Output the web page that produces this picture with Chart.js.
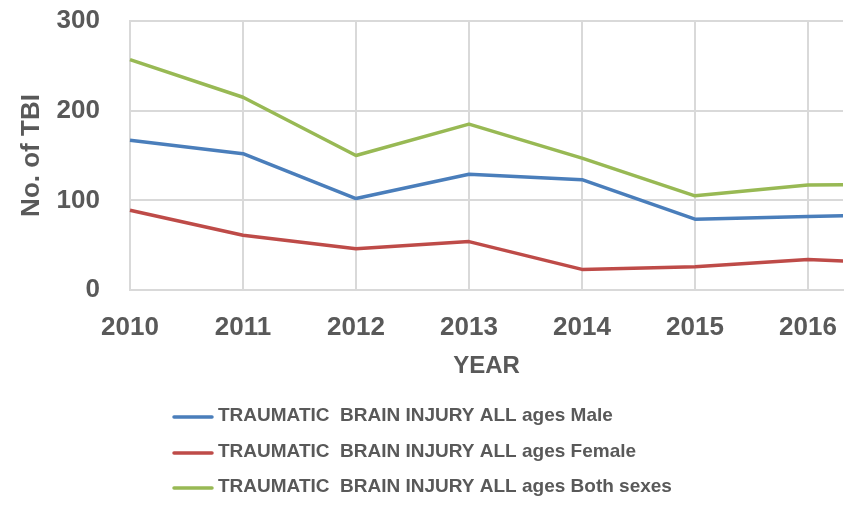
<!DOCTYPE html>
<html><head><meta charset="utf-8">
<script src="https://cdn.jsdelivr.net/npm/chart.js@4"></script>
<style>html,body{margin:0;padding:0;background:#fff}#wrap{width:855px;height:505px}</style>
</head><body><div id="wrap"><canvas id="c" width="855" height="505"></canvas></div>
<script>
// Data (the chart is cropped just past 2016; 2017 is only partly visible)
const years = [2010, 2011, 2012, 2013, 2014, 2015, 2016, 2017];
const maleValues = [167, 152, 102, 129, 123, 79, 82, 85];
const femaleValues = [89, 61, 46, 54, 23, 26, 34, 29];
const bothValues = [257, 215, 150, 185, 147, 105, 117, 118];
const seriesLabels = [
  'TRAUMATIC  BRAIN INJURY ALL ages Male',
  'TRAUMATIC  BRAIN INJURY ALL ages Female',
  'TRAUMATIC  BRAIN INJURY ALL ages Both sexes'
];
const xTickValues = [2010, 2011, 2012, 2013, 2014, 2015, 2016];
const yTickValues = [0, 100, 200, 300];
const xAxisTitle = 'YEAR';
const yAxisTitle = 'No. of TBI';

const TEXT = '#595959';
const GRID = '#d9d9d9';
const FONT = "'Liberation Sans', Arial, sans-serif";
const colors = ['#4a7ebb', '#be4b48', '#98b954'];

const toPoints = vals => vals.map((v, i) => ({x: years[i], y: v}));

const legendPlugin = {
  id: 'sideLegend',
  afterDraw(chart) {
    const ctx = chart.ctx;
    const rows = [417, 453, 488];
    ctx.save();
    chart.data.datasets.forEach((ds, i) => {
      const y = rows[i];
      ctx.strokeStyle = ds.borderColor;
      ctx.lineWidth = 3.5;
      ctx.lineCap = 'round';
      ctx.beginPath();
      ctx.moveTo(174, y);
      ctx.lineTo(212, y);
      ctx.stroke();
      ctx.fillStyle = TEXT;
      ctx.font = "bold 19px " + FONT;
      ctx.textBaseline = 'middle';
      ctx.textAlign = 'left';
      ctx.fillText(ds.label, 218, y - 1);
    });
    ctx.restore();
  }
};

new Chart(document.getElementById('c'), {
  type: 'line',
  data: {
    datasets: [
      {label: seriesLabels[0], data: toPoints(maleValues), borderColor: colors[0]},
      {label: seriesLabels[1], data: toPoints(femaleValues), borderColor: colors[1]},
      {label: seriesLabels[2], data: toPoints(bothValues), borderColor: colors[2]}
    ].map(d => Object.assign(d, {
      borderWidth: 3.5, pointRadius: 0, tension: 0, fill: false,
      borderJoinStyle: 'round', clip: {left: 5, top: 5, right: 0, bottom: 5}
    }))
  },
  options: {
    responsive: false,
    animation: false,
    devicePixelRatio: 1,
    layout: {padding: {top: 21, right: 12, bottom: 124, left: 0}},
    plugins: {legend: {display: false}, tooltip: {enabled: false}},
    scales: {
      x: {
        type: 'linear',
        min: years[0],
        max: 2016.31,
        afterBuildTicks: s => { s.ticks = xTickValues.map(v => ({value: v})); },
        afterFit: s => { s.height = 91; s.paddingLeft = 0; s.paddingRight = 0; },
        ticks: {stepSize: 1, autoSkip: false, maxRotation: 0, padding: 22,
          color: TEXT, font: {family: FONT, size: 26, weight: 'bold'},
          callback: v => String(v)},
        grid: {color: GRID, lineWidth: 2, drawTicks: false},
        border: {color: GRID, width: 2},
        title: {display: true, text: xAxisTitle, color: TEXT,
          font: {family: FONT, size: 24, weight: 'bold'}, padding: {top: 0, bottom: 0}}
      },
      y: {
        min: 0, max: 300,
        afterBuildTicks: s => { s.ticks = yTickValues.map(v => ({value: v})); },
        afterFit: s => { s.width = 130; s.paddingTop = 0; s.paddingBottom = 0; },
        ticks: {stepSize: 100, padding: 30, color: TEXT,
          font: {family: FONT, size: 26, weight: 'bold'}},
        grid: {color: GRID, lineWidth: 2, drawTicks: false},
        border: {color: GRID, width: 2},
        title: {display: true, text: yAxisTitle, color: TEXT,
          font: {family: FONT, size: 26, weight: 'bold'}, padding: {top: 16, bottom: 0}}
      }
    }
  },
  plugins: [legendPlugin]
});
</script>
</body></html>
